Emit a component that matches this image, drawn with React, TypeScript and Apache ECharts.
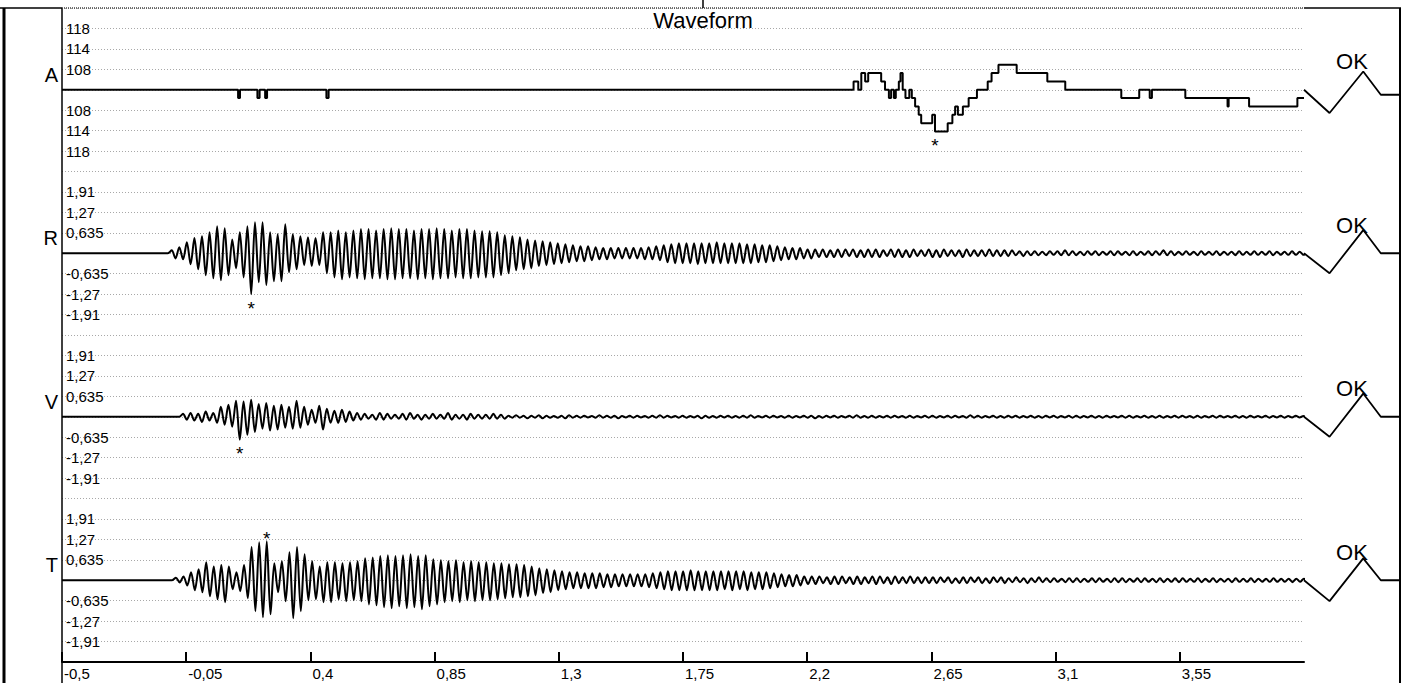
import React, { useEffect, useRef } from 'react';
import * as echarts from 'echarts';

const FONT = "'Liberation Sans', Arial, Helvetica, sans-serif";

// ---------- axes / ticks ----------
const X_MIN = -0.5;
const X_MAX = 4.0;
const X_TICKS = [-0.5, -0.05, 0.4, 0.85, 1.3, 1.75, 2.2, 2.65, 3.1, 3.55];
const CHANNELS = ['A', 'R', 'V', 'T'];
const A_TICK_LABELS = ['108', '114', '118'];
const VEL_TICK_LABELS = ['0,635', '1,27', '1,91'];
const A_ROW_PA = 5.02; // Pa per grid row
const VEL_ROW = 0.635; // mm/s per grid row

// ---------- A (air overpressure, Pa), step trace ----------
const A_TIMES = [
  -0.5, 0.138, 0.145, 0.208, 0.216, 0.236, 0.243, 0.458, 0.466, 2.368, 2.385, 2.396, 2.41, 2.421,
  2.468, 2.482, 2.496, 2.504, 2.514, 2.521, 2.532, 2.538, 2.546, 2.556, 2.57, 2.579, 2.591, 2.604,
  2.613, 2.653, 2.663, 2.709, 2.726, 2.736, 2.746, 2.764, 2.785, 2.815, 2.854, 2.868, 2.893, 2.959,
  3.07, 3.135, 3.338, 3.403, 3.441, 3.449, 3.57, 3.723, 3.727, 3.801, 3.976, 4.0,
];
const A_PA = [
  0, -2.05, 0, -2.05, 0, -2.05, 0, -2.05, 0, 2.05, 0, 4.1, 2.05, 4.1,
  2.05, 0, -2.05, 0, -2.05, 0, 2.05, 4.1, 0, -2.05, 0, -2.05, -4.1, -6.15,
  -8.2, -6.15, -10.25, -8.2, -6.15, -4.1, -6.15, -4.1, -2.05, 0, 2.05, 4.1, 6.15, 4.1,
  2.05, 0, -2.05, 0, -2.05, 0, -2.05, -4.1, -2.05, -4.1, -2.05, -2.05,
];

// ---------- R, V, T (mm/s): alternating peak / trough per half period ----------
const HALF_PERIOD = 0.013714;
const R_START = -0.1025;
const R_EXT = [
  0.09, -0.16, 0.19, -0.19, 0.34, -0.34, 0.47, -0.5, 0.53, -0.68, 0.65, -0.78, 0.84, -0.84, 0.78, -0.68, 0.43, -0.47, 0.65, -0.75,
  0.84, -1.27, 0.96, -0.9, 0.96, -0.99, 0.65, -0.87, 0.59, -0.87, 0.9, -0.59, 0.59, -0.5, 0.53, -0.37, 0.5, -0.4, 0.47, -0.37,
  0.65, -0.62, 0.65, -0.75, 0.71, -0.81, 0.65, -0.75, 0.71, -0.78, 0.75, -0.81, 0.75, -0.78, 0.71, -0.78, 0.75, -0.81, 0.78, -0.81,
  0.75, -0.78, 0.75, -0.78, 0.71, -0.81, 0.75, -0.78, 0.75, -0.81, 0.78, -0.78, 0.75, -0.78, 0.71, -0.75, 0.75, -0.78, 0.75, -0.78,
  0.71, -0.75, 0.68, -0.75, 0.68, -0.75, 0.65, -0.68, 0.56, -0.62, 0.53, -0.53, 0.5, -0.5, 0.43, -0.47, 0.4, -0.4, 0.37, -0.37,
  0.34, -0.34, 0.31, -0.31, 0.28, -0.28, 0.25, -0.25, 0.22, -0.25, 0.22, -0.22, 0.19, -0.19, 0.16, -0.19, 0.16, -0.16, 0.16, -0.16,
  0.16, -0.16, 0.16, -0.16, 0.16, -0.19, 0.19, -0.19, 0.22, -0.22, 0.25, -0.28, 0.28, -0.31, 0.31, -0.31, 0.31, -0.31, 0.31, -0.34,
  0.31, -0.31, 0.31, -0.31, 0.34, -0.31, 0.31, -0.31, 0.31, -0.31, 0.31, -0.31, 0.28, -0.31, 0.28, -0.28, 0.25, -0.28, 0.25, -0.25,
  0.22, -0.22, 0.19, -0.19, 0.16, -0.19, 0.16, -0.16, 0.12, -0.16, 0.12, -0.12, 0.12, -0.12, 0.09, -0.12, 0.12, -0.12, 0.12, -0.09,
  0.12, -0.12, 0.09, -0.12, 0.12, -0.12, 0.12, -0.12, 0.09, -0.09, 0.12, -0.12, 0.12, -0.12, 0.09, -0.12, 0.12, -0.09, 0.09, -0.09,
  0.12, -0.12, 0.09, -0.12, 0.12, -0.09, 0.09, -0.09, 0.09, -0.12, 0.12, -0.09, 0.09, -0.09, 0.09, -0.09, 0.12, -0.09, 0.09, -0.09,
  0.09, -0.09, 0.09, -0.06, 0.06, -0.09, 0.06, -0.06, 0.06, -0.06, 0.05, -0.06, 0.06, -0.05, 0.06, -0.06, 0.09, -0.06, 0.06, -0.06,
  0.05, -0.06, 0.06, -0.05, 0.06, -0.06, 0.05, -0.05, 0.06, -0.06, 0.06, -0.05, 0.05, -0.06, 0.06, -0.06, 0.05, -0.05, 0.06, -0.06,
  0.06, -0.05, 0.09, -0.06, 0.06, -0.06, 0.05, -0.05, 0.06, -0.05, 0.05, -0.06, 0.06, -0.05, 0.05, -0.05, 0.06, -0.06, 0.05, -0.05,
  0.05, -0.06, 0.06, -0.05, 0.05, -0.05, 0.06, -0.05, 0.05, -0.05, 0.06, -0.06, 0.05, -0.05, 0.05, -0.05, 0.06, -0.05, 0.05, -0.05,
];

const V_START = -0.0616;
const V_EXT = [
  0.09, -0.09, 0.12, -0.12, 0.09, -0.16, 0.16, -0.12, 0.12, -0.19, 0.31, -0.25, 0.37, -0.31, 0.5, -0.71, 0.47, -0.56, 0.53, -0.47,
  0.4, -0.37, 0.43, -0.43, 0.34, -0.4, 0.37, -0.34, 0.31, -0.37, 0.5, -0.34, 0.31, -0.25, 0.22, -0.19, 0.34, -0.4, 0.25, -0.19,
  0.19, -0.19, 0.22, -0.16, 0.16, -0.12, 0.12, -0.09, 0.09, -0.06, 0.06, -0.09, 0.12, -0.09, 0.09, -0.06, 0.06, -0.06, 0.09, -0.09,
  0.12, -0.06, 0.06, -0.09, 0.06, -0.06, 0.09, -0.06, 0.06, -0.06, 0.12, -0.09, 0.06, -0.06, 0.06, -0.09, 0.09, -0.06, 0.06, -0.06,
  0.06, -0.06, 0.09, -0.06, 0.06, -0.06, 0.03, -0.03, 0.05, -0.03, 0.03, -0.05, 0.03, -0.03, 0.05, -0.05, 0.03, -0.03, 0.02, -0.03,
  0.03, -0.05, 0.05, -0.03, 0.03, -0.03, 0.03, -0.02, 0.02, -0.03, 0.05, -0.03, 0.03, -0.03, 0.03, -0.05, 0.02, -0.02, 0.03, -0.03,
  0.03, -0.02, 0.02, -0.03, 0.03, -0.03, 0.05, -0.03, 0.03, -0.02, 0.02, -0.03, 0.03, -0.03, 0.02, -0.02, 0.03, -0.05, 0.03, -0.03,
  0.02, -0.03, 0.03, -0.02, 0.03, -0.03, 0.02, -0.03, 0.03, -0.03, 0.05, -0.03, 0.02, -0.02, 0.03, -0.03, 0.03, -0.02, 0.02, -0.03,
  0.03, -0.03, 0.02, -0.02, 0.03, -0.03, 0.03, -0.05, 0.02, -0.03, 0.03, -0.02, 0.03, -0.03, 0.02, -0.02, 0.03, -0.03, 0.05, -0.03,
  0.02, -0.03, 0.03, -0.03, 0.02, -0.02, 0.03, -0.03, 0.03, -0.02, 0.02, -0.03, 0.03, -0.03, 0.02, -0.02, 0.03, -0.03, 0.03, -0.03,
  0.02, -0.02, 0.03, -0.03, 0.03, -0.02, 0.02, -0.03, 0.05, -0.03, 0.03, -0.03, 0.02, -0.02, 0.03, -0.03, 0.02, -0.03, 0.03, -0.02,
  0.03, -0.03, 0.02, -0.02, 0.03, -0.03, 0.02, -0.03, 0.03, -0.02, 0.03, -0.03, 0.02, -0.02, 0.03, -0.03, 0.03, -0.03, 0.02, -0.02,
  0.03, -0.03, 0.02, -0.03, 0.03, -0.02, 0.02, -0.02, 0.03, -0.03, 0.03, -0.03, 0.02, -0.02, 0.03, -0.03, 0.02, -0.03, 0.03, -0.03,
  0.02, -0.02, 0.03, -0.03, 0.03, -0.02, 0.02, -0.03, 0.03, -0.03, 0.02, -0.02, 0.03, -0.03, 0.03, -0.02, 0.02, -0.02, 0.03, -0.03,
  0.02, -0.03, 0.03, -0.02, 0.02, -0.02, 0.03, -0.03, 0.02, -0.02, 0.03, -0.03, 0.02, -0.02, 0.03, -0.02, 0.02, -0.02, 0.02, -0.02,
];

const T_START = -0.0873;
const T_EXT = [
  0.08, -0.07, 0.12, -0.16, 0.25, -0.31, 0.34, -0.37, 0.56, -0.5, 0.43, -0.59, 0.47, -0.68, 0.43, -0.28, 0.25, -0.34, 0.47, -0.56,
  1.03, -0.96, 1.18, -1.15, 1.21, -1.06, 0.53, -0.37, 0.59, -0.65, 0.87, -1.18, 1.03, -0.96, 0.81, -0.62, 0.59, -0.59, 0.43, -0.68,
  0.56, -0.68, 0.56, -0.59, 0.53, -0.65, 0.56, -0.62, 0.59, -0.65, 0.68, -0.75, 0.71, -0.78, 0.75, -0.84, 0.78, -0.87, 0.75, -0.81,
  0.78, -0.87, 0.81, -0.84, 0.75, -0.9, 0.78, -0.81, 0.65, -0.75, 0.62, -0.68, 0.59, -0.65, 0.62, -0.68, 0.56, -0.62, 0.59, -0.65,
  0.56, -0.62, 0.56, -0.62, 0.53, -0.59, 0.53, -0.56, 0.5, -0.53, 0.5, -0.53, 0.47, -0.5, 0.43, -0.47, 0.37, -0.4, 0.34, -0.37,
  0.31, -0.31, 0.28, -0.28, 0.25, -0.25, 0.25, -0.25, 0.22, -0.25, 0.22, -0.25, 0.22, -0.22, 0.19, -0.22, 0.19, -0.19, 0.19, -0.19,
  0.19, -0.19, 0.19, -0.19, 0.19, -0.22, 0.22, -0.25, 0.25, -0.28, 0.28, -0.31, 0.28, -0.31, 0.28, -0.31, 0.31, -0.31, 0.28, -0.31,
  0.28, -0.31, 0.28, -0.31, 0.28, -0.28, 0.28, -0.31, 0.28, -0.28, 0.28, -0.31, 0.25, -0.28, 0.25, -0.28, 0.25, -0.25, 0.22, -0.22,
  0.19, -0.19, 0.16, -0.19, 0.16, -0.16, 0.12, -0.12, 0.12, -0.12, 0.12, -0.09, 0.09, -0.12, 0.12, -0.12, 0.12, -0.09, 0.09, -0.12,
  0.12, -0.12, 0.09, -0.09, 0.12, -0.12, 0.12, -0.09, 0.09, -0.12, 0.12, -0.09, 0.09, -0.09, 0.12, -0.09, 0.09, -0.09, 0.09, -0.09,
  0.09, -0.09, 0.09, -0.06, 0.09, -0.09, 0.06, -0.09, 0.09, -0.09, 0.09, -0.06, 0.09, -0.09, 0.06, -0.09, 0.09, -0.06, 0.09, -0.09,
  0.06, -0.06, 0.09, -0.06, 0.06, -0.09, 0.06, -0.06, 0.09, -0.06, 0.06, -0.06, 0.06, -0.05, 0.05, -0.06, 0.06, -0.06, 0.06, -0.06,
  0.05, -0.05, 0.06, -0.06, 0.06, -0.05, 0.05, -0.06, 0.06, -0.06, 0.06, -0.06, 0.05, -0.05, 0.06, -0.06, 0.06, -0.05, 0.05, -0.06,
  0.06, -0.06, 0.05, -0.05, 0.06, -0.06, 0.06, -0.05, 0.05, -0.05, 0.06, -0.06, 0.05, -0.05, 0.06, -0.06, 0.05, -0.05, 0.05, -0.06,
  0.06, -0.05, 0.05, -0.05, 0.06, -0.06, 0.05, -0.05, 0.05, -0.05, 0.06, -0.05, 0.05, -0.05, 0.05, -0.06, 0.05, -0.05, 0.05, -0.05,
];

// ---------- sensor check pulse (right of the record) ----------
const PULSE_X = [0, 0.266, 0.617, 0.8, 1];
const PULSE_A = [0, -5.72, 4.49, -1.23, -1.23];
const PULSE_R = [0, -0.62, 0.72, 0, 0];
const PULSE_V = [0, -0.62, 0.72, 0, 0];
const PULSE_T = [0, -0.65, 0.68, 0, 0];

// ---------- layout ----------
const GRID_TOP = 8;
const CH_H = 163.5;
const PLOT_LEFT = 62;
const PLOT_W = 1242;
const PULSE_W = 96;
const TICK_FONT = 15;

function oscData(t0: number, ext: number[]) {
  const d: number[][] = [[X_MIN, 0], [t0 - HALF_PERIOD, 0]];
  ext.forEach((v, i) => d.push([t0 + i * HALF_PERIOD, v]));
  d.push([t0 + ext.length * HALF_PERIOD, 0]);
  return d;
}

function starMark(data: number[][]) {
  let best = data[0];
  for (const p of data) if (Math.abs(p[1]) > Math.abs(best[1])) best = p;
  return {
    symbol: 'circle',
    symbolSize: 1,
    silent: true,
    itemStyle: { color: 'rgba(0,0,0,0)' },
    label: {
      show: true,
      formatter: '*',
      position: 'inside',
      offset: [0, best[1] < 0 ? 14 : -3],
      color: '#000',
      fontSize: 19,
      fontFamily: FONT,
    },
    data: [{ coord: [best[0], best[1]] }],
  };
}

function tickFormatter(unit: number, labels: string[], signed: boolean) {
  return (v: number) => {
    const i = Math.round(Math.abs(v) / unit);
    if (i < 1 || i > labels.length) return '';
    return (signed && v < 0 ? '-' : '') + labels[i - 1];
  };
}

export default function App() {
  const ref = useRef<HTMLDivElement>(null);

  useEffect(() => {
    if (!ref.current) return;
    const chart = echarts.init(ref.current, null, { renderer: 'svg' });

    const aData = A_TIMES.map((t, i) => [t, A_PA[i]]);
    const rData = oscData(R_START, R_EXT);
    const vData = oscData(V_START, V_EXT);
    const tData = oscData(T_START, T_EXT);
    const chanData = [aData, rData, vData, tData];
    const pulses = [PULSE_A, PULSE_R, PULSE_V, PULSE_T];
    const units = [A_ROW_PA, VEL_ROW, VEL_ROW, VEL_ROW];
    const labelSets = [A_TICK_LABELS, VEL_TICK_LABELS, VEL_TICK_LABELS, VEL_TICK_LABELS];

    const grids: any[] = [];
    const xAxes: any[] = [];
    const yAxes: any[] = [];
    const series: any[] = [];

    for (let i = 0; i < 4; i++) {
      grids.push({ left: PLOT_LEFT, top: GRID_TOP + i * CH_H, width: PLOT_W, height: CH_H, outerBoundsMode: 'none', containLabel: false });
      const isBottom = i === 3;
      xAxes.push({
        type: 'value',
        gridIndex: i,
        min: X_MIN,
        max: X_MAX,
        axisLine: { show: isBottom, onZero: false, lineStyle: { color: '#000', width: 2 } },
        axisTick: { show: isBottom, inside: true, length: 10, customValues: X_TICKS, lineStyle: { color: '#000', width: 2 } },
        axisLabel: {
          show: isBottom,
          customValues: X_TICKS,
          formatter: (v: number) => String(v).replace('.', ','),
          align: 'left',
          margin: 4,
          padding: [0, 0, 0, 2],
          fontSize: TICK_FONT,
          color: '#000',
          fontFamily: FONT,
        },
        splitLine: { show: false },
      });
      const u = units[i];
      yAxes.push({
        type: 'value',
        gridIndex: i,
        min: -4 * u,
        max: 4 * u,
        interval: u,
        axisLine: { show: false },
        axisTick: { show: false },
        axisLabel: {
          inside: true,
          margin: 4,
          formatter: tickFormatter(u, labelSets[i], i > 0),
          fontSize: TICK_FONT,
          color: '#000',
          fontFamily: FONT,
          showMinLabel: false,
          showMaxLabel: false,
        },
        splitLine: { show: true, lineStyle: { color: '#a8a8a8', width: 1, type: [1, 2] } },
      });
      series.push({
        type: 'line',
        name: CHANNELS[i],
        xAxisIndex: i,
        yAxisIndex: i,
        data: chanData[i],
        step: i === 0 ? 'end' : false,
        smooth: i === 0 ? false : 0.3,
        symbol: 'none',
        lineStyle: { color: '#000', width: 2 },
        markPoint: starMark(chanData[i]),
        z: 3,
      });
    }

    for (let i = 0; i < 4; i++) {
      grids.push({ left: PLOT_LEFT + PLOT_W, top: GRID_TOP + i * CH_H, width: PULSE_W, height: CH_H, outerBoundsMode: 'none', containLabel: false });
      xAxes.push({ type: 'value', gridIndex: 4 + i, min: 0, max: 1, show: false });
      const u = units[i];
      yAxes.push({ type: 'value', gridIndex: 4 + i, min: -4 * u, max: 4 * u, interval: u, show: false });
      series.push({
        type: 'line',
        xAxisIndex: 4 + i,
        yAxisIndex: 4 + i,
        data: PULSE_X.map((x, k) => [x, pulses[i][k]]),
        symbol: 'none',
        lineStyle: { color: '#000', width: 1.8 },
        z: 3,
      });
    }

    const zeroY = (i: number) => GRID_TOP + i * CH_H + CH_H / 2;
    const txt = (text: string, x: number, y: number, size: number, align: string) => ({
      type: 'text',
      x,
      y,
      style: {
        text,
        fill: '#000',
        fontSize: size,
        fontFamily: FONT,
        align,
        verticalAlign: 'middle',
        textAlign: align,
        textVerticalAlign: 'middle',
      },
      z: 10,
    });
    const ln = (x1: number, y1: number, x2: number, y2: number, w: number, dash?: number[], color = '#000') => ({
      type: 'line',
      shape: { x1, y1, x2, y2 },
      style: { stroke: color, lineWidth: w, lineDash: dash || null },
      z: 10,
    });

    const graphic: any[] = [
      ...CHANNELS.map((c, i) => txt(c, 58, zeroY(i) - 15, 20, 'right')),
      ...CHANNELS.map((_, i) => txt('OK', 1352, zeroY(i) - 28, 22, 'center')),
      txt('Waveform', 703, 20, 22, 'center'),
      ln(4, 8, 4, 683, 3),
      ln(PLOT_LEFT, 8, PLOT_LEFT, 683, 1.5),
      ln(1400, 8, 1400, 683, 2),
      ln(0, 8, PLOT_LEFT, 8, 1.5),
      ln(PLOT_LEFT + PLOT_W, 8, 1401, 8, 1.5),
      ln(PLOT_LEFT, 8, PLOT_LEFT + PLOT_W, 8, 1.5, [1, 1], '#444'),
      ln(703, 0, 703, 8, 1.5),
    ];

    chart.setOption({
      animation: false,
      textStyle: { fontFamily: FONT },
      grid: grids,
      xAxis: xAxes,
      yAxis: yAxes,
      series,
      graphic,
    });

    return () => chart.dispose();
  }, []);

  return (
    <div
      ref={ref}
      style={{ position: 'fixed', left: 0, top: 0, width: 1401, height: 683, background: '#fff' }}
    />
  );
}
